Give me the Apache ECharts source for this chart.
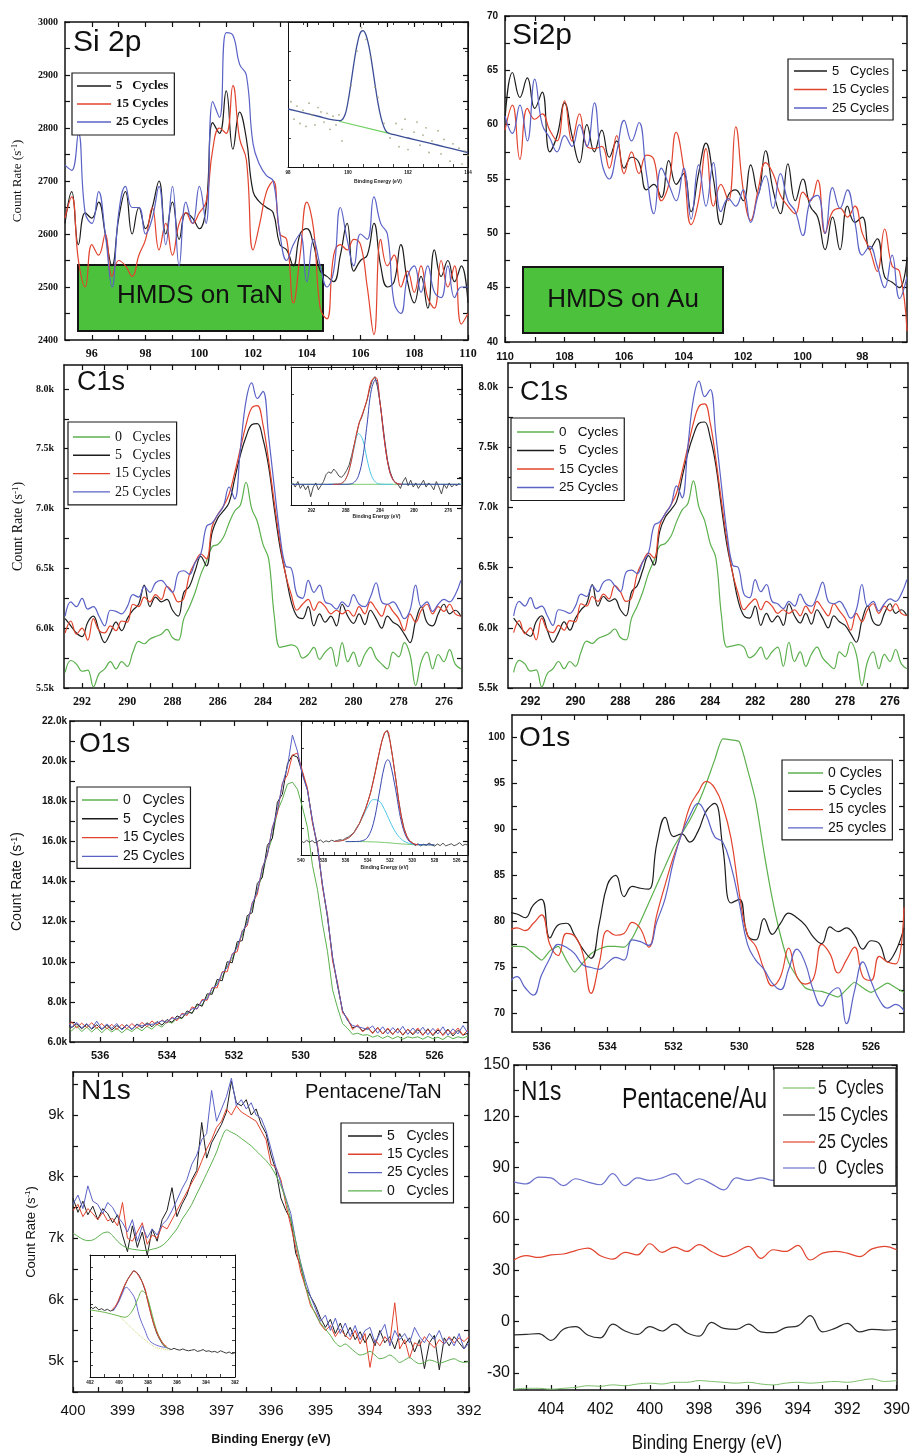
<!DOCTYPE html>
<html>
<head>
<meta charset="utf-8">
<title>XPS core-level spectra</title>
<script src="https://cdn.jsdelivr.net/npm/echarts@6/dist/echarts.min.js"></script>
<style>
html,body{margin:0;padding:0;background:#fff;}
#chart{width:913px;height:1454px;}
</style>
</head>
<body>
<div id="chart"></div>
<script>
// Sampling grid helper (binding energy axis of each spectrum, eV)
function seq(start, step, n) {
  const out = [];
  for (let i = 0; i < n; i++) out.push(Math.round((start + step * i) * 1000) / 1000);
  return out;
}

// ---------------- Si 2p, HMDS on TaN (count rate, s^-1) ----------------
const SI_TAN_E = seq(95, 0.25, 61);
const SI_TAN_5 = [2620,2680,2580,2640,2630,2660,2600,2540,2630,2680, 2600,2650,2610,2650,2700,2600,2660,2590,2640,2630,
  2610,2650,2810,2790,2870,2760,2830,2780,2680,2660, 2650,2640,2580,2570,2540,2600,2610,2580,2530,2520,
  2510,2560,2620,2530,2550,2560,2620,2540,2500,2510, 2580,2510,2470,2520,2460,2570,2520,2550,2510,2540, 2470];
const SI_TAN_15 = [2630,2670,2550,2500,2580,2560,2600,2520,2550,2540, 2520,2560,2590,2650,2570,2620,2560,2620,2640,2620,
  2640,2660,2760,2800,2790,2880,2780,2740,2570,2620, 2680,2700,2600,2590,2470,2560,2660,2610,2460,2440,
  2560,2580,2570,2590,2580,2500,2410,2590,2540,2560, 2500,2530,2490,2540,2480,2460,2550,2500,2540,2430, 2450];
const SI_TAN_25 = [2730,2720,2790,2640,2620,2680,2600,2500,2640,2690, 2650,2650,2600,2630,2690,2580,2690,2540,2660,2620,
  2690,2620,2850,2820,2980,2975,2920,2900,2770,2730, 2710,2700,2600,2550,2580,2600,2510,2590,2540,2500,
  2530,2650,2590,2540,2600,2590,2670,2620,2600,2470, 2450,2520,2540,2490,2540,2490,2480,2540,2480,2500, 2500];

// ---------------- Si 2p, HMDS on Au ----------------
const SI_AU_E = seq(110, -0.25, 55);
const SI_AU_5 = [60.5,64.8,62.5,64.3,61.5,63.0,57.5,59.0,62.0,59.0, 56.5,60.0,57.5,59.5,57.0,58.5,56.0,57.0,56.5,54.0,
  54.5,53.3,56.7,54.5,55.5,52.0,55.5,58.3,55.0,50.8, 53.5,54.0,53.0,56.3,53.6,57.6,54.0,51.8,56.4,53.0,
  55.0,52.5,51.5,48.5,51.5,48.5,52.5,51.0,51.5,48.5, 49.5,46.0,45.5,45.0,47.8];
const SI_AU_15 = [59.5,61.8,56.8,61.5,60.5,61.0,59.5,58.5,62.2,58.5, 61.0,58.0,57.8,58.0,56.0,59.0,55.5,57.5,55.5,57.2,
  56.8,53.0,54.5,59.3,56.0,50.8,53.0,57.8,52.5,54.5, 53.0,59.8,54.0,51.2,54.0,56.5,55.5,53.5,52.5,51.8,
  53.8,53.0,54.9,50.0,52.0,52.3,51.5,52.5,50.0,48.5, 46.5,50.4,47.0,46.5,41.0];
const SI_AU_25 = [60.8,59.2,61.8,58.5,64.2,60.0,58.8,57.5,59.0,58.0, 60.0,58.0,62.0,56.5,55.0,57.5,60.4,58.5,60.2,55.5,
  51.8,56.0,54.5,53.0,56.0,51.3,56.3,52.5,56.5,52.0, 53.2,52.5,54.0,51.0,53.5,55.3,52.3,55.5,53.0,52.0,
  49.8,53.0,53.5,50.0,54.2,52.3,54.0,51.0,48.0,48.8, 47.0,45.0,48.0,44.0,46.0];

// ---------------- C 1s (k counts/s) ----------------
const C1S_E = seq(292.75, -0.25, 71);
const C1S_0 = [5.63,5.73,5.70,5.64,5.65,5.51,5.62,5.66,5.72,5.66, 5.72,5.68,5.80,5.89,5.87,5.91,5.93,5.95,5.99,5.92,
  5.90,6.08,6.18,6.30,6.45,6.56,6.68,6.70,6.76,6.88, 6.98,7.03,7.22,7.00,6.89,6.70,6.58,6.10,5.84,5.85,
  5.86,5.84,5.75,5.78,5.84,5.74,5.80,5.84,5.68,5.88, 5.72,5.80,5.68,5.78,5.84,5.75,5.70,5.66,5.80,5.76,
  5.88,5.78,5.52,5.72,5.80,5.66,5.78,5.72,5.82,5.70, 5.66];
const C1S_5 = [6.08,6.02,5.96,5.93,6.05,6.10,5.98,5.88,5.96,6.05, 5.98,6.08,6.15,6.20,6.36,6.18,6.26,6.22,6.24,6.15,
  6.10,6.30,6.35,6.48,6.60,6.52,6.80,6.92,6.98,7.05, 7.25,7.45,7.60,7.70,7.71,7.58,7.35,7.00,6.68,6.45,
  6.22,6.10,6.08,6.18,6.02,6.12,6.05,6.10,6.02,6.20, 6.10,6.04,6.12,6.03,6.15,6.08,6.00,6.10,6.05,6.02,
  5.95,5.88,6.06,6.18,6.05,6.02,6.12,6.20,6.12,6.15, 6.10];
const C1S_15 = [5.96,6.06,5.95,6.00,5.90,6.08,5.98,5.96,6.02,5.98, 6.06,6.05,6.20,6.18,6.26,6.22,6.28,6.24,6.35,6.30,
  6.22,6.25,6.45,6.55,6.62,6.58,6.85,6.95,7.02,7.12, 7.30,7.50,7.70,7.84,7.86,7.70,7.40,7.05,6.72,6.45,
  6.28,6.15,6.20,6.24,6.15,6.22,6.18,6.12,6.15,6.12, 6.15,6.10,6.18,6.12,6.22,6.16,6.10,6.20,6.14,6.08,
  5.98,6.12,6.05,6.15,6.20,6.12,6.18,6.14,6.20,6.12, 6.10];
const C1S_25 = [6.10,6.22,6.18,6.25,6.16,6.18,6.10,6.02,6.15,6.14, 6.12,6.18,6.28,6.26,6.35,6.30,6.38,6.40,6.35,6.30,
  6.46,6.48,6.45,6.55,6.62,6.85,6.88,6.95,7.02,7.18, 7.08,7.50,7.90,8.05,7.92,7.98,7.60,7.18,6.78,6.52,
  6.50,6.28,6.25,6.40,6.30,6.36,6.22,6.20,6.16,6.22, 6.18,6.28,6.20,6.18,6.26,6.38,6.22,6.20,6.22,6.16,
  6.08,6.15,6.36,6.18,6.22,6.14,6.20,6.24,6.22,6.28, 6.40];

// ---------------- O 1s on TaN (k counts/s) ----------------
const O1S_TAN_E = seq(537, -0.15, 81);
const O1S_TAN_0 = [6.76,6.56,6.80,6.52,6.74,6.50,6.72,6.46,6.70,6.50, 6.68,6.46,6.66,6.52,6.72,6.56,6.78,6.64,6.88,6.74,
  7.02,6.94,7.18,7.18,7.46,7.46,7.82,7.84,8.28,8.48, 8.98,9.22,9.82,10.12,10.82,11.32,12.08,12.68,13.58,14.30,
  15.40,16.20,17.50,18.10,18.85,18.95,18.60,17.70,16.70,14.80, 13.60,11.90,10.50,8.60,7.70,6.92,6.68,6.38,6.44,6.34,
  6.36,6.24,6.32,6.18,6.30,6.16,6.28,6.14,6.26,6.20, 6.26,6.14,6.28,6.16,6.24,6.12,6.30,6.16,6.26,6.20, 6.30];
const O1S_TAN_5 = [6.95,6.72,6.90,6.66,6.88,6.64,6.86,6.62,6.84,6.60, 6.82,6.64,6.86,6.62,6.90,6.70,6.96,6.76,7.02,6.84,
  7.12,6.98,7.30,7.18,7.55,7.42,7.90,7.78,8.40,8.38, 9.12,9.05,10.00,9.95,11.00,11.05,12.30,12.45,13.90,14.20,
  15.80,16.15,17.95,18.35,19.85,20.30,20.20,19.40,18.55,17.00, 15.70,13.80,12.20,10.20,8.80,7.55,7.10,6.70,6.80,6.55,
  6.70,6.45,6.72,6.40,6.66,6.38,6.68,6.34,6.64,6.36, 6.62,6.34,6.66,6.32,6.60,6.36,6.64,6.30,6.58,6.34, 6.45];
const O1S_TAN_15 = [6.78,7.00,6.70,6.94,6.72,6.96,6.68,6.92,6.66,6.88, 6.62,6.88,6.66,6.92,6.70,6.98,6.76,7.05,6.84,7.10,
  6.94,7.25,7.06,7.44,7.32,7.75,7.64,8.12,8.08,8.72, 8.70,9.50,9.50,10.40,10.50,11.55,11.80,12.95,13.35,14.70,
  15.30,16.70,17.40,18.90,19.30,20.30,20.40,19.50,18.65,16.90, 15.85,13.70,12.35,10.05,8.95,7.45,7.18,6.62,6.86,6.50,
  6.76,6.42,6.72,6.40,6.70,6.38,6.66,6.36,6.64,6.40, 6.70,6.34,6.62,6.36,6.68,6.32,6.60,6.40,6.70,6.34, 6.60];
const O1S_TAN_25 = [7.02,6.74,6.98,6.70,6.92,6.66,7.04,6.64,6.90,6.68, 6.92,6.60,6.84,6.64,6.86,6.80,6.88,6.88,6.94,7.06,
  6.98,7.20,7.14,7.38,7.40,7.66,7.66,8.06,8.14,8.68, 8.84,9.45,9.70,10.35,10.70,11.50,11.90,12.90,13.50,14.65,
  15.35,16.65,17.55,18.85,19.70,21.30,20.50,19.30,18.55,17.05, 15.75,13.85,12.25,10.25,8.85,7.55,7.08,6.82,6.76,6.70,
  6.62,6.80,6.44,6.76,6.40,6.72,6.44,6.78,6.38,6.70, 6.42,6.74,6.36,6.68,6.40,6.76,6.34,6.66,6.40,6.82, 6.44];

// ---------------- O 1s on Au ----------------
const O1S_AU_E = seq(537, -0.25, 49);
const O1S_AU_0 = [77.3,77.3,77.2,76.5,75.8,76.8,77.3,75.8,74.5,75.5, 76.5,77.0,77.3,77.3,77.2,78.2,80.0,82.0,84.0,86.0,
  88.0,89.5,91.0,92.8,95.0,97.5,99.8,99.7,99.5,96.5, 93.0,87.5,82.5,78.5,75.5,74.0,72.8,72.5,72.4,72.1,
  71.8,72.6,73.4,72.8,72.3,72.8,73.3,72.8,72.3];
const O1S_AU_5 = [81.0,80.8,80.4,81.8,82.4,78.2,79.6,79.8,78.5,77.0, 76.0,79.8,84.0,85.0,82.7,83.8,83.6,83.5,88.5,91.3,
  89.2,89.5,88.6,89.8,92.0,92.8,88.0,82.0,82.4,78.5, 78.0,80.3,78.6,79.8,80.9,80.4,79.6,78.3,77.6,79.4,
  78.9,79.3,78.5,77.0,77.9,77.6,75.6,76.8,79.3];
const O1S_AU_15 = [79.0,79.3,79.0,79.8,80.7,77.5,76.3,78.7,78.4,76.5, 72.2,75.5,79.0,78.5,78.7,79.9,79.2,77.2,80.8,84.0,
  87.0,89.5,92.5,94.0,95.2,94.5,92.5,89.0,83.0,78.5, 77.3,74.8,73.0,74.0,77.1,74.0,73.2,73.8,77.5,76.5,
  74.4,75.8,77.2,74.0,73.6,76.2,75.6,75.4,81.5];
const O1S_AU_25 = [73.3,74.0,72.8,72.0,74.2,76.0,77.5,77.2,76.5,75.3, 75.0,74.8,75.5,76.1,75.8,78.0,77.8,77.4,80.0,82.5,
  86.5,89.5,91.5,92.8,91.5,89.2,88.6,86.0,82.0,77.5, 75.8,74.8,73.3,72.6,74.8,77.0,75.5,72.5,70.8,72.2,
  72.8,68.9,72.5,75.6,73.5,71.5,70.6,71.0,70.3];

// ---------------- N 1s, pentacene on TaN (k counts/s) ----------------
const N1S_TAN_E = seq(400, -0.1, 81);
const N1S_TAN_5 = [7.65,7.42,7.60,7.38,7.52,7.30,7.48,7.40,7.25,7.38, 7.05,6.78,7.20,6.85,7.10,6.72,7.15,6.95,7.30,7.45,
  7.82,7.35,7.55,7.70,7.95,8.10,8.88,8.30,8.55,8.70, 8.85,9.05,9.55,9.20,9.15,9.25,9.00,9.10,8.85,8.70,
  8.35,8.10,7.65,7.45,7.30,6.75,6.55,6.20,6.05,5.90, 5.70,5.55,5.68,5.45,5.62,5.40,5.55,5.35,5.48,5.30,
  5.45,5.25,5.50,5.30,5.40,5.20,5.45,5.28,5.38,5.15, 5.35,4.88,5.30,5.42,4.86,5.38,5.25,5.40,5.30,5.20, 5.35];
const N1S_TAN_15 = [7.45,7.55,7.35,7.48,7.40,7.30,7.42,7.28,7.32,7.20, 7.58,7.00,6.95,7.10,7.25,6.90,7.05,7.00,7.20,7.15,
  7.30,7.45,7.60,7.75,7.90,8.05,8.25,8.45,8.60,8.80, 8.90,9.10,9.00,9.15,9.05,9.00,8.95,8.90,8.75,8.60,
  8.20,8.15,7.95,7.55,7.20,6.85,6.45,6.20,5.90,5.78, 5.60,5.50,5.58,5.40,5.52,5.42,5.35,5.50,5.28,5.45,
  4.90,5.35,5.25,5.40,5.30,5.95,5.20,5.35,5.05,5.30, 5.25,5.40,5.30,5.22,5.35,5.28,5.40,5.30,5.38,5.32, 5.40];
const N1S_TAN_25 = [7.55,7.70,7.48,7.85,7.60,7.55,7.40,7.58,7.50,7.35, 7.25,7.10,7.30,6.95,7.20,7.00,7.15,7.05,7.22,7.30,
  7.45,7.62,7.80,7.95,8.20,8.35,8.60,8.70,9.40,8.90, 9.10,9.30,9.60,9.15,9.25,9.10,9.20,9.00,8.95,8.75,
  8.45,8.15,7.90,7.65,7.40,6.95,6.60,6.30,6.05,5.85, 5.65,5.75,5.50,5.70,5.45,5.62,5.40,5.58,5.35,5.50,
  5.55,5.30,5.45,5.60,5.25,5.50,5.35,5.45,5.30,5.55, 5.40,5.30,5.45,5.35,5.50,5.28,5.38,5.25,5.45,5.20, 5.30];
const N1S_TAN_0 = [7.08,7.03,6.98,6.96,6.97,7.02,7.08,7.10,7.04,6.95, 6.88,6.84,6.82,6.81,6.80,6.80,6.82,6.84,6.88,6.95,
  7.05,7.15,7.30,7.42,7.55,7.72,7.88,8.05,8.22,8.40, 8.62,8.76,8.72,8.68,8.62,8.56,8.50,8.42,8.34,8.26,
  8.16,8.02,7.85,7.62,7.30,6.95,6.58,6.22,5.95,5.76, 5.62,5.52,5.42,5.30,5.24,5.28,5.22,5.15,5.10,5.12,
  5.16,5.10,5.04,5.06,5.10,5.05,4.98,5.02,5.06,5.00, 4.96,4.98,5.02,5.00,4.97,4.99,5.02,5.04,5.00,4.98, 5.00];

// ---------------- N 1s, pentacene on Au ----------------
const N1S_AU_E = seq(405.5, -0.5, 32);
const N1S_AU_5 = [-39.5,-39.0,-39.0,-39.5,-39.0,-38.5,-37.5,-37.8,-37.0,-37.5, -36.5,-36.0,-36.5,-35.5,-35.5,-34.5,-35.0,-35.5,-36.0,-35.5,
  -36.5,-37.0,-36.0,-35.5,-36.0,-35.5,-35.0,-35.5,-34.5,-33.5, -35.0,-34.5];
const N1S_AU_15 = [-7.8,-7.5,-7.0,-11.0,-4.5,-3.0,-8.0,-9.5,-1.5,-5.5, -7.5,-3.0,-5.5,-1.5,-6.5,-8.5,-0.5,-4.0,-4.5,-1.5,
  -6.0,-6.5,-3.5,-2.5,3.5,-6.0,-4.0,-1.0,-6.0,-4.5, -5.0,-4.5];
const N1S_AU_25 = [36.0,38.5,37.5,39.0,39.5,41.5,43.0,38.5,36.5,40.5, 39.0,45.5,40.5,43.5,41.0,45.0,41.0,38.0,40.5,44.0,
  37.0,42.0,41.0,44.5,36.0,40.0,41.0,40.0,38.0,42.5, 44.0,42.0];
const N1S_AU_0 = [81.7,80.5,84.5,84.0,79.5,83.5,81.5,80.0,86.5,79.5, 84.0,82.5,84.0,86.5,80.5,83.5,80.5,77.0,84.0,82.5,
  84.0,82.5,84.0,81.0,83.5,82.0,84.5,81.5,83.0,80.5, 82.5,83.0];

// ---------------- Inset: Si 2p peak fit (arb. units) ----------------
const SI_FIT_E = [98,98.5,99,99.5,99.75,99.9,100,100.1,100.2,100.3,100.4,100.5,100.6,100.7,100.8,100.9,101,101.1,101.2,101.3,101.5,102,102.5,103,103.5,104];
const SI_FIT_V = [40,37.5,35,32.5,32,36,45,58,72,84,92,94,91,83,71,57,44,34,27.5,24,22.5,20,17.5,15,12.5,10];
const SI_BG_E = [99.7,101.4];
const SI_BG_V = [31.5,23];
const SI_PTS_E = [98.1,98.2,98.3,98.4,98.5,98.6,98.7,98.8,98.9,99.0,99.1,99.2,99.3,99.4,99.5,99.6,99.7,99.8,
  100.1,100.3,100.45,100.6,100.75,100.9,101.0,101.2,101.4,101.6,101.7,101.8,101.9,102.0,
  102.2,102.3,102.4,102.5,102.6,102.7,102.8,103.0,103.1,103.2,103.4,103.5,103.7,103.8,103.9,104.0];
const SI_PTS_V = [45,33,42,30,39,28,44,36,29,41,38,31,37,26,35,29,36,18,
  56,80,96,88,76,55,48,30,20,30,14,26,33,12,
  24,31,15,22,27,10,18,25,9,19,4,16,13,2,11,8];

// ---------------- Inset: C 1s peak fit ----------------
const C_FIT_DATA_E = seq(294.2, -0.3, 66);
const C_FIT_DATA_V = [16,13,17,12,15,11,14,6,13,16, 11,14,17,22,24,23,26,24,21,20, 22,25,29,36,44,52,60,64,70,76,
  84,90,93,86,75,60,45,32,24,19, 16,15,12,17,20,14,18,13,16,12, 15,18,13,16,14,11,17,13,8,15, 12,16,13,15,14,16];
const C_FIT_MAIN_E = [294.4,288,287.5,287,286.5,286,285.5,285,284.5,284,283.5,283,282.5,282,281.5,274.4];
const C_FIT_MAIN_V = [15,15,15.2,16.5,21.3,34.7,58.7,83.5,91,74.6,48.1,28,18.6,15.7,15.1,15];
const C_FIT_SIDE_E = [290,289,288.5,288,287.5,287,286.5,286,285.5,285,284.5,284,283.5,282.5];
const C_FIT_SIDE_V = [15,15.1,15.7,18.8,27.6,41.9,51.7,47.1,33,21.5,16.5,15.2,15,15];
const C_FIT_SUM_E = [289.5,289,288.5,288,287.5,287,286.5,286,285.5,285,284.5,284,283.5,283,282.5,282,281.5];
const C_FIT_SUM_V = [15,15.1,15.7,18.8,27.8,43.4,58,66.8,76.7,90,92.5,74.8,48.1,28,18.6,15.7,15.1];
const C_FIT_BG_E = [294.4,274.4];
const C_FIT_BG_V = [15,15];

// ---------------- Inset: O 1s peak fit ----------------
const O_FIT_DATA_E = seq(540, -0.25, 61);
const O_FIT_DATA_V = [10.5,9.2,11.0,9.5,10.8,9.0,10.2,11.2,9.4,10.6, 9.8,11.0,10.2,10.8,11.4,11.0,12.5,13.4,15.0,16.8,
  20.5,23.5,28.8,33.5,39.8,46.5,55.8,65.0,75.0,84.5, 91.0,93.0,85.0,72.0,57.5,42.0,29.5,20.0,14.2,10.5,
  9.2,7.0,8.4,6.8,8.0,7.2,9.0,7.5,6.6,8.2, 7.0,8.8,6.8,7.6,8.4,6.9,7.8,9.2,7.0,8.0, 7.4];
const O_FIT_MAIN_E = [536,535,534.5,534,533.5,533,532.5,532.2,532,531.5,531,530.5,530,529.5,528];
const O_FIT_MAIN_V = [10,10.1,10.6,13.4,23.6,44.7,66.5,71.1,68.8,48.8,25.5,12.8,8.6,7.7,7.6];
const O_FIT_SIDE_E = [537,536.5,536,535.5,535,534.5,534,533.5,533,532.5,532,531.5,531,530.5,530,529];
const O_FIT_SIDE_V = [10.1,10.5,11.6,14.3,19.7,27.6,36.0,41.3,40.4,33.9,24.9,17.0,11.9,9.3,8.2,7.6];
const O_FIT_SUM_E = [537,536.5,536,535.5,535,534.5,534,533.5,533,532.5,532.25,532,531.5,531,530.5,530,529.5];
const O_FIT_SUM_V = [10.1,10.5,11.6,14.3,19.8,28.2,39.5,55.1,75.5,91.1,92.5,84.7,57.2,29.1,14.0,9.0,7.7];
const O_FIT_BG_E = [536,535,534,533,532,531,530,529,528];
const O_FIT_BG_V = [10,10,9.9,9.6,9.0,8.3,7.8,7.6,7.5];

// ---------------- Inset: N 1s peak fit ----------------
const N_FIT_DATA_E = seq(402, -0.2, 51);
const N_FIT_DATA_V = [58,56,57.5,55,56,54.5,55.5,54,55,58, 63,69,75,80,84,87,86,83,78,71, 62,52,43,36,31,27,24.5,23.5,22.5,23.5,
  22.5,22,23,22,21.5,22,22.5,21,21.5,22.5, 21,21.5,20.5,21,20,21.5,20.5,19.5,20.5,19, 20];
const N_FIT_SUM_E = [400.5,400.2,399.9,399.5,399.1,399.0,398.6,398.2,398.0,397.5,397.0,396.7];
const N_FIT_SUM_V = [55,59,67,78,85,87,82,72,61,40,28,25];
const N_FIT_A_E = [400.4,400.0,399.75,399.5,399.2,398.9,398.6,398.2,397.9,397.4,396.7];
const N_FIT_A_V = [54,62,69,73.5,70,64,50,38,30,26,24];
const N_FIT_B_E = [402,401,400,399.6,399.1,398.7,398.4,398.1,397.8,397.4,397.0,396.7];
const N_FIT_B_V = [55,53,50,49,54,64,70.5,67,55,38,28,24];
const N_FIT_BG_E = [399.9,398.6,397.5,396.5];
const N_FIT_BG_V = [49,34,24,22];

// ---------------- styling ----------------
const SERIF = "'Liberation Serif', 'Times New Roman', serif";
const SANS = "'Liberation Sans', Arial, sans-serif";
const NARROW = "'Liberation Sans Narrow', 'Liberation Sans', Arial, sans-serif";
const COL = { k: '#1d1d1d', r: '#e2432d', b: '#5a62c6', g: '#5cb04e' };

function ticks(a, b, step) {
  const out = [];
  const n = Math.round((b - a) / step);
  for (let i = 0; i <= n; i++) out.push(Math.round((a + step * i) * 1000) / 1000);
  return out;
}

const option = {
  animation: false,
  backgroundColor: '#ffffff',
  grid: [], xAxis: [], yAxis: [], series: [], legend: [], graphic: []
};
const LEGEND_TEXT = {};
const plain = v => String(v);

function addPanel(p) {
  const gi = option.grid.length;
  option.grid.push({ left: p.box[0], top: p.box[1], width: p.box[2], height: p.box[3] });
  const axLine = { show: true, onZero: false, lineStyle: { color: '#111', width: p.frameW || 1.5 } };
  const tk = vals => ({ show: true, inside: true, length: p.tickLen || 5, customValues: vals,
    lineStyle: { color: '#111', width: p.tickW || 1.2 } });
  const lbl = (vals, fs, margin, fmt) => vals ? ({
    show: true, customValues: vals, fontFamily: p.font, fontSize: fs, fontWeight: p.weight || 'normal',
    color: '#111', margin: margin, formatter: fmt || plain, showMinLabel: true, showMaxLabel: true
  }) : { show: false };
  const xi = option.xAxis.length;
  const xBase = { type: 'value', gridIndex: gi, min: p.x[0], max: p.x[1], inverse: !!p.inverse,
    axisLine: axLine, axisTick: tk(p.xTicks), splitLine: { show: false } };
  option.xAxis.push(Object.assign({}, xBase, {
    position: 'bottom', axisLabel: lbl(p.xLabels, p.xFs, p.xMargin, p.xFmt),
    name: p.xName || '', nameLocation: 'middle', nameGap: p.xNameGap || 30,
    nameTextStyle: p.xNameStyle || {}
  }));
  option.xAxis.push(Object.assign({}, xBase, { position: 'top', axisLabel: { show: false } }));
  const yi = option.yAxis.length;
  const yBase = { type: 'value', gridIndex: gi, min: p.y[0], max: p.y[1],
    axisLine: axLine, axisTick: tk(p.yTicks), splitLine: { show: false } };
  option.yAxis.push(Object.assign({}, yBase, {
    position: 'left', axisLabel: lbl(p.yLabels, p.yFs, p.yMargin, p.yFmt),
    name: p.yName || '', nameLocation: 'middle', nameRotate: 90, nameGap: p.yNameGap || 30,
    nameTextStyle: p.yNameStyle || {}
  }));
  option.yAxis.push(Object.assign({}, yBase, { position: 'right', axisLabel: { show: false } }));

  p.series.forEach(s => {
    const scatter = !!s.scatter;
    option.series.push({
      type: scatter ? 'scatter' : 'line',
      name: s.id,
      xAxisIndex: xi, yAxisIndex: yi,
      data: s.x.map((x, i) => [x, s.y[i]]),
      symbol: scatter ? 'circle' : 'none',
      symbolSize: s.size || 2,
      showSymbol: scatter,
      smooth: s.smooth || false,
      lineStyle: { color: s.color, width: s.width || 1.2, type: s.dash || 'solid' },
      itemStyle: { color: s.color },
      silent: true,
      z: s.z || 2,
      clip: true
    });
    if (s.label) LEGEND_TEXT[s.id] = s.label;
  });

  if (p.legend) {
    const L = p.legend;
    option.legend.push({
      show: true, selectedMode: false, orient: 'vertical',
      left: L.left, top: L.top,
      data: L.ids.map(id => ({ name: id, icon: 'rect' })),
      formatter: n => LEGEND_TEXT[n],
      itemWidth: L.iw, itemHeight: 1.4, itemGap: L.gap,
      padding: L.pad,
      borderColor: '#1a1a1a', borderWidth: 1.2, backgroundColor: '#ffffff',
      textStyle: { fontFamily: L.font, fontSize: L.fs, fontWeight: L.weight || 'normal', color: '#111',
        lineHeight: 14, height: 14 },
      z: 10
    });
  }
}

const countName = 'Count Rate (s{sup|-1})';
function nameStyle(font, fs) {
  return { fontFamily: font, fontSize: fs, color: '#111',
    rich: { sup: { fontFamily: font, fontSize: Math.round(fs * 0.62), verticalAlign: 'top', padding: [0, 0, 6, 0] } } };
}
const kFmt1 = v => v.toFixed(1) + 'k';

// ---------- Si 2p / TaN ----------
addPanel({
  box: [65, 22, 403, 318], x: [95, 110], inverse: false, y: [2400, 3000],
  xLabels: ticks(96, 110, 2), xTicks: ticks(96, 110, 1),
  yLabels: ticks(2400, 3000, 100), yTicks: ticks(2400, 3000, 50),
  font: SERIF, weight: 'bold', xFs: 12, yFs: 10, xMargin: 8, yMargin: 7,
  yName: countName, yNameGap: 40, yNameStyle: nameStyle(SERIF, 13),
  series: [
    { id: 'p1k', x: SI_TAN_E, y: SI_TAN_5, color: COL.k, smooth: 0.45, label: '5   Cycles' },
    { id: 'p1r', x: SI_TAN_E, y: SI_TAN_15, color: COL.r, smooth: 0.45, label: '15 Cycles' },
    { id: 'p1b', x: SI_TAN_E, y: SI_TAN_25, color: COL.b, smooth: 0.45, label: '25 Cycles' }
  ],
  legend: { left: 72, top: 73, ids: ['p1k', 'p1r', 'p1b'], iw: 34, gap: 4, pad: [6, 6, 6, 5],
    font: SERIF, fs: 13, weight: 'bold' }
});

// ---------- Si 2p / Au ----------
addPanel({
  box: [505, 16, 402, 326], x: [96.5, 110], inverse: true, y: [40, 70],
  xLabels: ticks(98, 110, 2), xTicks: ticks(97, 110, 1),
  yLabels: ticks(40, 70, 5), yTicks: ticks(40, 70, 2.5),
  font: SANS, weight: 'bold', xFs: 11, yFs: 10, xMargin: 9, yMargin: 7,
  series: [
    { id: 'p2k', x: SI_AU_E, y: SI_AU_5, color: COL.k, smooth: 0.45, label: '5   Cycles' },
    { id: 'p2r', x: SI_AU_E, y: SI_AU_15, color: COL.r, smooth: 0.45, label: '15 Cycles' },
    { id: 'p2b', x: SI_AU_E, y: SI_AU_25, color: COL.b, smooth: 0.45, label: '25 Cycles' }
  ],
  legend: { left: 788, top: 59, ids: ['p2k', 'p2r', 'p2b'], iw: 33, gap: 4.5, pad: [5, 4, 5, 6],
    font: SANS, fs: 13 }
});

// ---------- C 1s / TaN ----------
addPanel({
  box: [64, 365, 398, 323], x: [275.2, 292.8], inverse: true, y: [5.5, 8.2],
  xLabels: ticks(276, 292, 2), xTicks: ticks(276, 292, 1),
  yLabels: ticks(5.5, 8.0, 0.5), yTicks: ticks(5.5, 8.0, 0.25), yFmt: kFmt1,
  font: SERIF, weight: 'bold', xFs: 12, yFs: 10, xMargin: 8, yMargin: 10,
  yName: countName, yNameGap: 38, yNameStyle: nameStyle(SERIF, 14),
  series: [
    { id: 'p3g', x: C1S_E, y: C1S_0, color: COL.g, smooth: 0.4, label: '0   Cycles' },
    { id: 'p3k', x: C1S_E, y: C1S_5, color: COL.k, smooth: 0.4, label: '5   Cycles' },
    { id: 'p3r', x: C1S_E, y: C1S_15, color: COL.r, smooth: 0.4, label: '15 Cycles' },
    { id: 'p3b', x: C1S_E, y: C1S_25, color: COL.b, smooth: 0.4, label: '25 Cycles' }
  ],
  legend: { left: 68, top: 422, ids: ['p3g', 'p3k', 'p3r', 'p3b'], iw: 37, gap: 4.3, pad: [8, 6, 6, 5],
    font: SERIF, fs: 14 }
});

// ---------- C 1s / Au ----------
addPanel({
  box: [508, 363, 400, 325], x: [275.2, 293], inverse: true, y: [5.5, 8.2],
  xLabels: ticks(276, 292, 2), xTicks: ticks(276, 292, 1),
  yLabels: ticks(5.5, 8.0, 0.5), yTicks: ticks(5.5, 8.0, 0.25), yFmt: kFmt1,
  font: SANS, weight: 'bold', xFs: 12, yFs: 10, xMargin: 8, yMargin: 10,
  series: [
    { id: 'p4g', x: C1S_E, y: C1S_0, color: COL.g, smooth: 0.4, label: '0   Cycles' },
    { id: 'p4k', x: C1S_E, y: C1S_5, color: COL.k, smooth: 0.4, label: '5   Cycles' },
    { id: 'p4r', x: C1S_E, y: C1S_15, color: COL.r, smooth: 0.4, label: '15 Cycles' },
    { id: 'p4b', x: C1S_E, y: C1S_25, color: COL.b, smooth: 0.4, label: '25 Cycles' }
  ],
  legend: { left: 511, top: 418, ids: ['p4g', 'p4k', 'p4r', 'p4b'], iw: 37, gap: 4.5, pad: [7, 6, 6, 6],
    font: SANS, fs: 13.5 }
});

// ---------- O 1s / TaN ----------
addPanel({
  box: [70, 721, 398, 321], x: [525, 536.9], inverse: true, y: [6, 22],
  xLabels: ticks(526, 536, 2), xTicks: ticks(526, 536, 1),
  yLabels: ticks(6, 22, 2), yTicks: ticks(6, 22, 1), yFmt: kFmt1,
  font: SANS, weight: 'bold', xFs: 11, yFs: 10, xMargin: 8, yMargin: 3,
  yName: countName, yNameGap: 45, yNameStyle: nameStyle(SANS, 14),
  series: [
    { id: 'p5g', x: O1S_TAN_E, y: O1S_TAN_0, color: COL.g, width: 1, label: '0   Cycles' },
    { id: 'p5k', x: O1S_TAN_E, y: O1S_TAN_5, color: COL.k, width: 1, label: '5   Cycles' },
    { id: 'p5r', x: O1S_TAN_E, y: O1S_TAN_15, color: COL.r, width: 1, label: '15 Cycles' },
    { id: 'p5b', x: O1S_TAN_E, y: O1S_TAN_25, color: COL.b, width: 1, label: '25 Cycles' }
  ],
  legend: { left: 77, top: 787, ids: ['p5g', 'p5k', 'p5r', 'p5b'], iw: 36, gap: 4.8, pad: [6, 6, 5, 5],
    font: SANS, fs: 14 }
});

// ---------- O 1s / Au ----------
addPanel({
  box: [512, 715, 392, 317], x: [525, 536.9], inverse: true, y: [68, 102.4],
  xLabels: ticks(526, 536, 2), xTicks: ticks(526, 536, 1),
  yLabels: ticks(70, 100, 5), yTicks: ticks(70, 100, 2.5),
  font: SANS, weight: 'bold', xFs: 11, yFs: 10, xMargin: 9, yMargin: 7,
  series: [
    { id: 'p6g', x: O1S_AU_E, y: O1S_AU_0, color: COL.g, smooth: 0.2, label: '0 Cycles' },
    { id: 'p6k', x: O1S_AU_E, y: O1S_AU_5, color: COL.k, smooth: 0.45, label: '5 Cycles' },
    { id: 'p6r', x: O1S_AU_E, y: O1S_AU_15, color: COL.r, smooth: 0.45, label: '15 cycles' },
    { id: 'p6b', x: O1S_AU_E, y: O1S_AU_25, color: COL.b, smooth: 0.45, label: '25 cycles' }
  ],
  legend: { left: 782, top: 760, ids: ['p6g', 'p6k', 'p6r', 'p6b'], iw: 35, gap: 4.3, pad: [6, 6, 5, 6],
    font: SANS, fs: 14 }
});

// ---------- N 1s / TaN ----------
addPanel({
  box: [73, 1072, 396, 320], x: [392, 400], inverse: true, y: [4.5, 9.7],
  xLabels: ticks(392, 400, 1), xTicks: ticks(392, 400, 0.5),
  yLabels: ticks(5, 9, 1), yTicks: ticks(4.5, 9.5, 0.5), yFmt: v => v + 'k',
  font: SANS, weight: 'normal', xFs: 15, yFs: 15, xMargin: 11, yMargin: 9,
  yName: countName, yNameGap: 35, yNameStyle: nameStyle(SANS, 13),
  xName: 'Binding Energy (eV)', xNameGap: 41,
  xNameStyle: { fontFamily: SANS, fontSize: 12.5, fontWeight: 'bold', color: '#111' },
  series: [
    { id: 'p7k', x: N1S_TAN_E, y: N1S_TAN_5, color: COL.k, width: 1, label: '5   Cycles' },
    { id: 'p7r', x: N1S_TAN_E, y: N1S_TAN_15, color: COL.r, width: 1, label: '15 Cycles' },
    { id: 'p7b', x: N1S_TAN_E, y: N1S_TAN_25, color: COL.b, width: 1, label: '25 Cycles' },
    { id: 'p7g', x: N1S_TAN_E, y: N1S_TAN_0, color: COL.g, width: 1, smooth: 0.3, label: '0   Cycles' }
  ],
  legend: { left: 341, top: 1123, ids: ['p7k', 'p7r', 'p7b', 'p7g'], iw: 34, gap: 4.3, pad: [6, 5, 5, 7],
    font: SANS, fs: 14 }
});

// ---------- N 1s / Au ----------
addPanel({
  box: [514, 1065, 385, 325], x: [390, 405.5], inverse: true, y: [-40, 150],
  xLabels: ticks(390, 404, 2), xTicks: ticks(390, 405, 1),
  yLabels: ticks(-30, 150, 30), yTicks: ticks(-30, 150, 15),
  font: NARROW, weight: 'normal', xFs: 16, yFs: 16, xMargin: 12, yMargin: 4,
  series: [
    { id: 'p8g', x: N1S_AU_E, y: N1S_AU_5, color: '#7cbf6a', width: 1, smooth: 0.4 },
    { id: 'p8k', x: N1S_AU_E, y: N1S_AU_15, color: '#2b2b2b', width: 1.2, smooth: 0.4 },
    { id: 'p8r', x: N1S_AU_E, y: N1S_AU_25, color: COL.r, width: 1.2, smooth: 0.4 },
    { id: 'p8b', x: N1S_AU_E, y: N1S_AU_0, color: '#6c72cc', width: 1.2, smooth: 0.4 }
  ]
});

// ---------- insets (fitted components) ----------
const insetBase = { font: SANS, weight: 'bold', xFs: 4.5, xMargin: 3, frameW: 1, tickLen: 3, tickW: 0.8,
  xName: 'Binding Energy (eV)', xNameGap: 10,
  xNameStyle: { fontFamily: SANS, fontSize: 5, fontWeight: 'bold', color: '#222' } };

addPanel(Object.assign({}, insetBase, {
  box: [288, 22, 180, 145], x: [98, 104], inverse: false, y: [0, 100],
  xLabels: ticks(98, 104, 2), xTicks: ticks(98, 104, 0.5), yTicks: ticks(0, 100, 20),
  xNameGap: 12,
  series: [
    { id: 'i1pts', x: SI_PTS_E, y: SI_PTS_V, color: '#9a9a70', scatter: true, size: 1.8 },
    { id: 'i1bg', x: SI_BG_E, y: SI_BG_V, color: '#6fd060', width: 1.1 },
    { id: 'i1fit', x: SI_FIT_E, y: SI_FIT_V, color: '#3b4d96', width: 1.3, smooth: 0.35 }
  ]
}));

addPanel(Object.assign({}, insetBase, {
  box: [291, 367, 171, 138], x: [274.4, 294.4], inverse: true, y: [0, 100],
  xLabels: ticks(276, 292, 4), xTicks: ticks(276, 292, 2), yTicks: ticks(0, 100, 20),
  xNameGap: 9,
  series: [
    { id: 'i3bg', x: C_FIT_BG_E, y: C_FIT_BG_V, color: '#7ccc70', width: 1 },
    { id: 'i3data', x: C_FIT_DATA_E, y: C_FIT_DATA_V, color: '#3a3a3a', width: 0.9 },
    { id: 'i3side', x: C_FIT_SIDE_E, y: C_FIT_SIDE_V, color: '#4cc6e6', width: 1, smooth: 0.4 },
    { id: 'i3main', x: C_FIT_MAIN_E, y: C_FIT_MAIN_V, color: '#3848b0', width: 1, smooth: 0.4 },
    { id: 'i3sum', x: C_FIT_SUM_E, y: C_FIT_SUM_V, color: '#e03a2a', width: 1, smooth: 0.4 }
  ]
}));

addPanel(Object.assign({}, insetBase, {
  box: [301, 721, 167, 134], x: [525, 540], inverse: true, y: [0, 100],
  xLabels: ticks(526, 540, 2), xTicks: ticks(526, 540, 1), yTicks: ticks(0, 100, 20),
  xNameGap: 10,
  series: [
    { id: 'i5bg', x: O_FIT_BG_E, y: O_FIT_BG_V, color: '#7ccc70', width: 1, smooth: 0.4 },
    { id: 'i5data', x: O_FIT_DATA_E, y: O_FIT_DATA_V, color: '#3a3a3a', width: 0.9 },
    { id: 'i5side', x: O_FIT_SIDE_E, y: O_FIT_SIDE_V, color: '#4cc6e6', width: 1, smooth: 0.4 },
    { id: 'i5main', x: O_FIT_MAIN_E, y: O_FIT_MAIN_V, color: '#3848b0', width: 1, smooth: 0.4 },
    { id: 'i5sum', x: O_FIT_SUM_E, y: O_FIT_SUM_V, color: '#e03a2a', width: 1, smooth: 0.4 }
  ]
}));

addPanel(Object.assign({}, insetBase, {
  box: [90, 1255, 145, 122], x: [392, 402], inverse: true, y: [0, 100],
  xLabels: ticks(392, 402, 2), xTicks: ticks(392, 402, 1), yTicks: ticks(0, 100, 10),
  xName: '',
  series: [
    { id: 'i7bg', x: N_FIT_BG_E, y: N_FIT_BG_V, color: '#d2d26a', width: 1, dash: 'dotted' },
    { id: 'i7data', x: N_FIT_DATA_E, y: N_FIT_DATA_V, color: '#3a3a3a', width: 1 },
    { id: 'i7a', x: N_FIT_A_E, y: N_FIT_A_V, color: '#6a6ad0', width: 1, smooth: 0.4 },
    { id: 'i7b', x: N_FIT_B_E, y: N_FIT_B_V, color: '#6ab84a', width: 1, smooth: 0.4 },
    { id: 'i7sum', x: N_FIT_SUM_E, y: N_FIT_SUM_V, color: '#e04030', width: 1, smooth: 0.4 }
  ]
}));

// ---------- text annotations, sample boxes ----------
function txt(text, x, y, size, o) {
  o = o || {};
  return {
    type: 'text', x: x, y: y, z: o.z || 50, scaleX: o.sx || 1, silent: true,
    style: {
      text: text,
      font: (o.weight || 'normal') + ' ' + size + 'px ' + (o.family || SANS),
      fill: o.color || '#111',
      align: o.align || 'left',
      verticalAlign: 'middle'
    }
  };
}
function box(x, y, w, h) {
  return { type: 'rect', z: 1, silent: true, shape: { x: x, y: y, width: w, height: h },
    style: { fill: '#4cc23c', stroke: '#151515', lineWidth: 2 } };
}

option.graphic = [
  box(78, 265, 245, 66),
  txt('HMDS on TaN', 200, 296, 26, { align: 'center', z: 1 }),
  box(523, 267, 200, 66),
  txt('HMDS on Au', 623, 300, 26, { align: 'center', z: 1 }),

  txt('Si 2p', 73, 43, 30),
  txt('Si2p', 512, 36, 30),
  txt('C1s', 77, 383, 27),
  txt('C1s', 520, 393, 27),
  txt('O1s', 79, 744, 28),
  txt('O1s', 519, 738, 28),
  txt('N1s', 81, 1091, 28),
  txt('Pentacene/TaN', 305, 1092, 20),
  txt('N1s', 521, 1093, 27, { sx: 0.84 }),
  txt('Pentacene/Au', 622, 1100, 30, { sx: 0.77 }),
  txt('Binding Energy (eV)', 707, 1443, 21, { sx: 0.8, align: 'center' }),

  // legend for the Au N 1s panel
  { type: 'rect', z: 60, silent: true, shape: { x: 774, y: 1068, width: 122, height: 118 },
    style: { fill: '#ffffff', stroke: '#151515', lineWidth: 1.3 } },
  { type: 'line', z: 61, silent: true, shape: { x1: 783, y1: 1088, x2: 815, y2: 1088 }, style: { stroke: '#7cbf6a', lineWidth: 1.2 } },
  { type: 'line', z: 61, silent: true, shape: { x1: 783, y1: 1115, x2: 815, y2: 1115 }, style: { stroke: '#2b2b2b', lineWidth: 1.2 } },
  { type: 'line', z: 61, silent: true, shape: { x1: 783, y1: 1142, x2: 815, y2: 1142 }, style: { stroke: COL.r, lineWidth: 1.2 } },
  { type: 'line', z: 61, silent: true, shape: { x1: 783, y1: 1168, x2: 815, y2: 1168 }, style: { stroke: '#6c72cc', lineWidth: 1.2 } },
  txt('5  Cycles', 818, 1088, 21, { sx: 0.76, z: 62 }),
  txt('15 Cycles', 818, 1115, 21, { sx: 0.76, z: 62 }),
  txt('25 Cycles', 818, 1142, 21, { sx: 0.76, z: 62 }),
  txt('0  Cycles', 818, 1168, 21, { sx: 0.76, z: 62 })
];

const chart = echarts.init(document.getElementById('chart'), null, { renderer: 'canvas' });
chart.setOption(option);
</script>
</body>
</html>
